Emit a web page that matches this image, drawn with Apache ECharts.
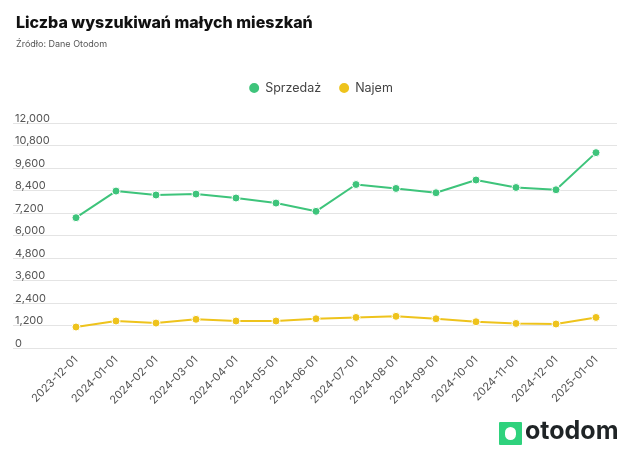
<!DOCTYPE html>
<html>
<head>
<meta charset="utf-8">
<script src="https://cdn.jsdelivr.net/npm/echarts@6/dist/echarts.min.js"></script>
<style>
html,body{margin:0;padding:0;background:#fff;}
#chart{width:640px;height:456px;}
</style>
</head>
<body>
<div id="chart"></div>
<script>
const categories = ["2023-12-01","2024-01-01","2024-02-01","2024-03-01","2024-04-01","2024-05-01","2024-06-01","2024-07-01","2024-08-01","2024-09-01","2024-10-01","2024-11-01","2024-12-01","2025-01-01"];
const sprzedaz = [6950, 8370, 8160, 8210, 8000, 7730, 7290, 8720, 8510, 8280, 8960, 8560, 8440, 10420];
const najem = [1120, 1440, 1330, 1530, 1440, 1440, 1560, 1630, 1690, 1560, 1400, 1310, 1280, 1630];
const seriesNames = ["Sprzedaż", "Najem"];
const yMin = 0, yMax = 12000, yStep = 1200;

const FONT = "Inter, 'Noto Sans', sans-serif";
const chart = echarts.init(document.getElementById('chart'), null, {renderer: 'canvas'});
const gridTop = 123, gridBottom = 108;
chart.setOption({
  animation: false,
  backgroundColor: '#fff',
  textStyle: {fontFamily: FONT},
  title: {
    text: 'Liczba wyszukiwań małych mieszkań',
    subtext: 'Źródło: Dane Otodom',
    left: 11, top: 10,
    itemGap: 9,
    textStyle: {fontFamily: FONT, fontSize: 16, fontWeight: 800, color: '#111'},
    subtextStyle: {fontFamily: FONT, fontSize: 9, color: '#555'}
  },
  legend: {
    top: 76, left: 'center',
    icon: 'circle', itemWidth: 12, itemHeight: 12, itemGap: 16,
    textStyle: {fontFamily: FONT, fontSize: 12.5, color: '#444'},
    data: seriesNames
  },
  grid: [
    {left: 56, right: 24, top: gridTop, bottom: gridBottom},
    {left: 13, right: 23, top: gridTop, bottom: gridBottom}
  ],
  xAxis: [
    {
      type: 'category', gridIndex: 0, data: categories, boundaryGap: true,
      axisLine: {show: false}, axisTick: {show: false},
      axisLabel: {rotate: 45, interval: 0, margin: 10, fontSize: 11, color: '#555', fontFamily: FONT}
    },
    {type: 'value', gridIndex: 1, min: 0, max: 1, show: false}
  ],
  yAxis: [
    {type: 'value', gridIndex: 0, min: yMin, max: yMax, interval: yStep, show: false},
    {
      type: 'value', gridIndex: 1, min: yMin, max: yMax, interval: yStep,
      axisLine: {show: false}, axisTick: {show: false},
      splitLine: {show: true, lineStyle: {color: '#e4e4e4', width: 1}},
      axisLabel: {
        inside: true, margin: 2, verticalAlign: 'bottom', padding: [0, 0, -1, 0],
        fontSize: 11, color: '#555', fontFamily: FONT,
        formatter: v => v.toLocaleString('en-US')
      }
    }
  ],
  series: [
    {
      name: seriesNames[0], type: 'line', data: sprzedaz, xAxisIndex: 0, yAxisIndex: 0,
      symbol: 'circle', symbolSize: 8,
      itemStyle: {color: '#3ec47b', borderColor: '#fff', borderWidth: 1},
      lineStyle: {color: '#3ec47b', width: 2}
    },
    {
      name: seriesNames[1], type: 'line', data: najem, xAxisIndex: 0, yAxisIndex: 0,
      symbol: 'circle', symbolSize: 8,
      itemStyle: {color: '#eec31c', borderColor: '#fff', borderWidth: 1},
      lineStyle: {color: '#eec31c', width: 2}
    }
  ],
  graphic: [
    {type: 'rect', left: 499, top: 422, shape: {width: 23, height: 23, r: 1}, style: {fill: '#2fd27d'}},
    {type: 'rect', left: 505, top: 427, shape: {width: 11, height: 13, r: 5.5}, style: {fill: '#fff'}},
    {type: 'text', left: 525, top: 419, style: {text: 'otodom', fontFamily: FONT, fontSize: 25, fontWeight: 'bold', fill: '#1f2426'}}
  ]
});
</script>
</body>
</html>
